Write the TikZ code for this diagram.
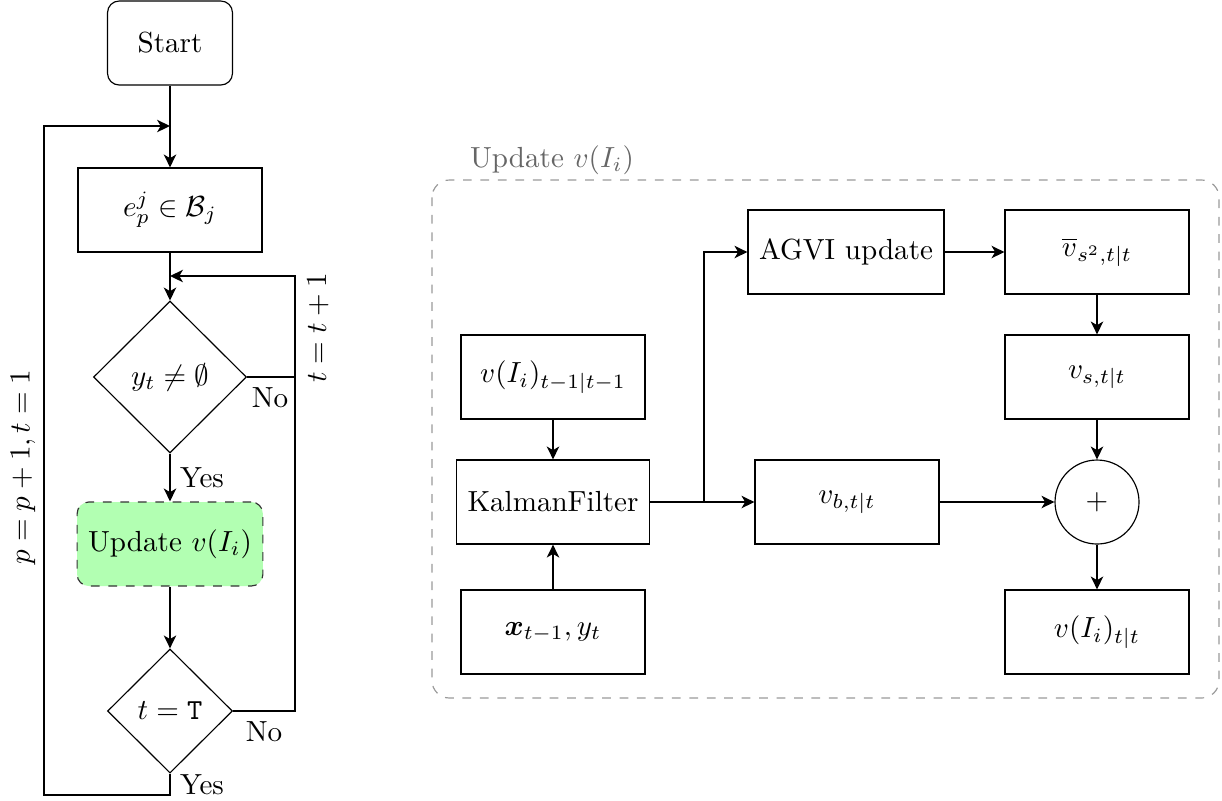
\documentclass[tikz,border=0pt]{standalone}
\usepackage{amsmath,amssymb}
\usetikzlibrary{shapes.geometric,arrows.meta}
\begin{document}
\begin{tikzpicture}[x=0.01208cm,y=-0.01208cm,
  box/.style={draw, rectangle, minimum width=2.223cm, minimum height=1.015cm, inner xsep=3.8pt, inner ysep=0pt},
  startbox/.style={draw, rectangle, rounded corners=4pt, minimum width=1.51cm, minimum height=1.015cm, inner sep=0pt},
  greenbox/.style={box, rounded corners=4pt, dashed, fill=green!30, draw=black!80},
  dec/.style={draw, diamond, inner sep=0pt},
  sumnode/.style={draw, circle, minimum size=1.015cm, inner sep=0pt},
  arr/.style={line width=0.9pt, -{Stealth[length=4.4pt,width=4.2pt,inset=1.2pt]}},
  ln/.style={line width=0.9pt},
  lbl/.style={inner sep=0pt}]
\useasboundingbox (0,0) rectangle (1222,800);

% ---------- left flowchart ----------
\node[startbox] (start) at (170,43) {Start};
\node[box] (ebox) at (170,210) {$e_p^j \in \mathcal{B}_j$};
\node[dec, minimum width=1.848cm, minimum height=1.836cm] (d1) at (170,377) {$y_t \neq \emptyset$};
\node[greenbox] (upd) at (170,544) {Update $v(I_i)$};
\node[dec, minimum width=1.51cm, minimum height=1.50cm] (d2) at (170,711) {$t = \texttt{T}$};

\coordinate (j1) at (170,126);
\coordinate (j2) at (170,276);
\coordinate (r1) at (295,377);
\coordinate (r2) at (295,711);
\coordinate (b1) at (170,795);
\coordinate (b2) at (44,795);

\draw[arr] (start) -- (ebox);
\draw[arr] (ebox) -- (d1);
\draw[arr] (d1) -- (upd);
\draw[arr] (upd) -- (d2);
\draw[arr] (d1.east) -- (r1) -- (r1 |- j2) -- (j2);
\draw[ln] (d2.east) -- (r2) -- (r1);
\draw[arr] (d2.south) -- (b1) -- (b2) -- (b2 |- j1) -- (j1);

\node[lbl] (no1) at (270,398) {No};
\node[lbl] (yes1) at (202,478) {Yes};
\node[lbl] (no2) at (264,732) {No};
\node[lbl] (yes2) at (202,785) {Yes};
\node[lbl, rotate=90] (tinc) at (318,328) {$t = t + 1$};
\node[lbl, rotate=90] (pinc) at (23,467) {$p = p + 1, t = 1$};

% ---------- right block ----------
\draw[dashed, draw=black!40, rounded corners=6pt] (432,180) rectangle (1219,698);
\node[lbl, text=black!60] (grp) at (552,160) {Update $v(I_i)$};

\node[box] (vprev) at (553,377) {$v(I_i)_{t-1|t-1}$};
\node[box] (kf) at (553,502) {KalmanFilter};
\node[box] (xin) at (553,632) {$\boldsymbol{x}_{t-1}, y_t$};
\node[box] (agvi) at (846,252) {AGVI update};
\node[box] (vb) at (847,502) {$v_{b,t|t}$};
\node[box] (vbar) at (1097,252) {$\overline{v}_{s^2,t|t}$};
\node[box] (vs) at (1097,377) {$v_{s,t|t}$};
\node[sumnode] (sum) at (1097,502) {$+$};
\node[box] (vout) at (1097,632) {$v(I_i)_{t|t}$};

\coordinate (br) at (704,502);
\draw[arr] (vprev) -- (kf);
\draw[arr] (xin) -- (kf);
\draw[arr] (kf.east) -- (br) -- (br |- agvi.west) -- (agvi.west);
\draw[arr] (kf.east) -- (vb.west);
\draw[arr] (agvi) -- (vbar);
\draw[arr] (vbar) -- (vs);
\draw[arr] (vs) -- (sum);
\draw[arr] (vb) -- (sum);
\draw[arr] (sum) -- (vout);
\end{tikzpicture}
\end{document}
